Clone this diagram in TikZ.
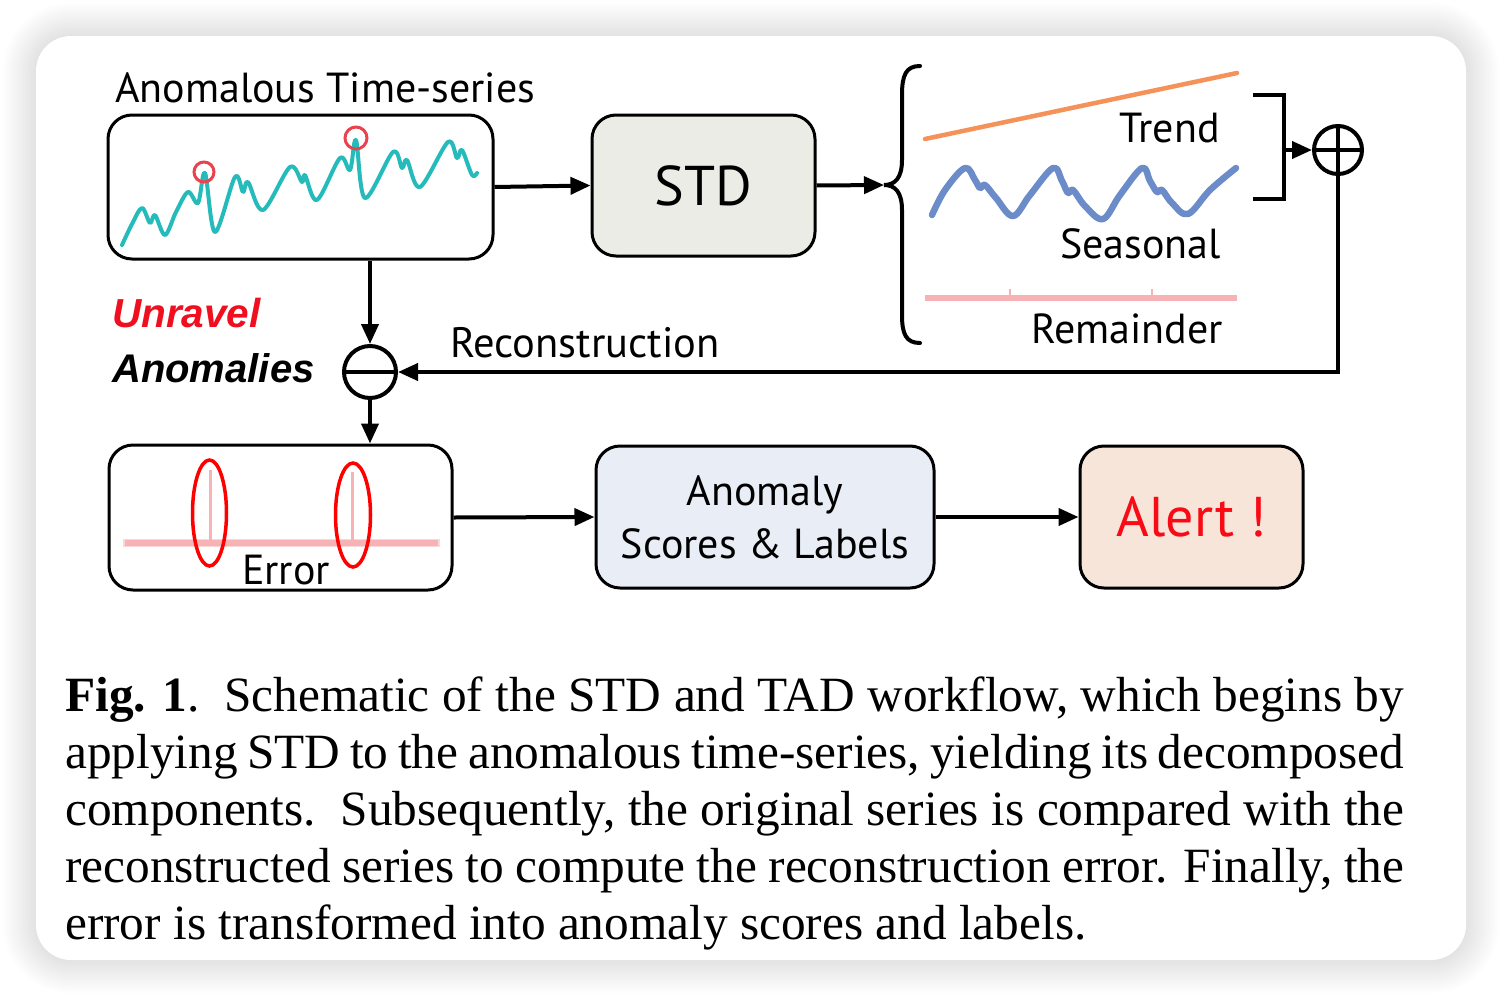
\documentclass[tikz,border=0pt]{standalone}
\usepackage{fontspec}
\setmainfont{Liberation Serif}
\newfontfamily\dfont{PT Sans}
\newfontfamily\afont{Liberation Sans}
\usetikzlibrary{arrows.meta}
\definecolor{teal2}{RGB}{38,187,187}
\definecolor{redc}{RGB}{233,67,79}
\definecolor{trendc}{RGB}{244,146,90}
\definecolor{seasc}{RGB}{107,140,200}
\definecolor{remc}{RGB}{247,178,182}
\definecolor{stdfill}{RGB}{236,236,230}
\definecolor{anfill}{RGB}{233,238,246}
\definecolor{alfill}{RGB}{247,229,218}
\definecolor{alred}{RGB}{250,10,20}
\definecolor{unred}{RGB}{240,15,30}
\begin{document}
\begin{tikzpicture}[x=1pt,y=-1pt,
  conn/.style={line width=4pt, -{Triangle[length=20pt,width=17pt]}},
  box/.style={draw, line width=3pt, rounded corners=24pt, inner sep=0pt},
  lbl/.style={font=\dfont\fontsize{42}{52}\selectfont, inner sep=0pt},
  caplbl/.style={font=\fontsize{49.3}{57}\selectfont, inner sep=0pt, anchor=base west},
  circ/.style={circle, draw, line width=4pt, inner sep=0pt},
  ]
\useasboundingbox (0,0) rectangle (1502,996);
\fill[white] (0,0) rectangle (1502,996);
% shadow
\foreach \i in {1,...,28} {
  \pgfmathsetmacro\d{\i*1.2}
  \pgfmathsetmacro\r{35+\d}
  \fill[black, opacity=0.005, rounded corners=\r pt] (36-\d,36-\d) rectangle (1466+\d,960+\d);
}
\fill[white, rounded corners=35pt] (36,36) rectangle (1466,960);

% boxes
\node[box, minimum width=385pt, minimum height=144pt] (ts) at (300.5,187) {};
\node[box, fill=stdfill, minimum width=223pt, minimum height=141pt, font=\dfont\fontsize{56}{60}\selectfont] (std) at (703.5,185.5) {STD};
\node[box, minimum width=343pt, minimum height=145pt] (err) at (280.5,517.5) {};
\node[box, fill=anfill, minimum width=338pt, minimum height=142pt, align=center, font=\dfont\fontsize{42}{53}\selectfont] (anom) at (765,517) {Anomaly\\Scores \& Labels};
\node[box, fill=alfill, minimum width=223pt, minimum height=142pt, text=alred, font=\dfont\fontsize{56}{60}\selectfont] (alert) at (1191.5,517) {Alert !};

% time series
\draw[teal2, line width=4pt, line cap=round, line join=round] plot[smooth, tension=0.55] coordinates {
(122,245) (132,224) (142,208) (150,223) (155,215) (165,235) (176,212) (188,192) (198,203) (205,173) (215,232) (235,177) (243,192) (248,182) (263,210) (290,167) (302,182) (305,175) (317,200) (340,158) (350,170) (356,140) (365,198) (393,152) (402,168) (407,160) (420,187) (448,142) (457,158) (462,150) (472,175) (477,173)};
\draw[redc, line width=3pt] (204,172) circle[radius=10pt];
\draw[redc, line width=3pt] (356,138) circle[radius=11pt];

% decomposition
\draw[trendc, line width=4.5pt, line cap=round] (925,139) -- (1237,73);
\draw[seasc, line width=6.5pt, line cap=round, line join=round] plot[smooth, tension=0.6] coordinates {
(932,215) (945,190) (965,168) (975,180) (980,188) (985,185) (996,198) (1013,216) (1030,195) (1053,168) (1062,181) (1068,193) (1073,190) (1085,206) (1103,219) (1120,195) (1142,168) (1150,181) (1157,192) (1162,190) (1172,203) (1188,214) (1210,190) (1236,168)};
\draw[remc, line width=5.5pt] (925,298) -- (1237,298);
\draw[remc, line width=2.5pt] (1010,289) -- (1010,298) (1152,289) -- (1152,298);
\node[lbl, anchor=base east] (trend) at (1220,142) {Trend};
\node[lbl, anchor=base east] (seas) at (1221,258) {Seasonal};
\node[lbl, anchor=base east] (rem) at (1223,343) {Remainder};

% brace
\coordinate (bracetip) at (884,185);
\draw[line width=4pt, line cap=round] (920,66) .. controls (906,66) and (902,75) .. (902,95) -- (902,160) .. controls (902,178) and (895,185) .. (bracetip) .. controls (895,185) and (902,192) .. (902,210) -- (902,315) .. controls (902,334) and (906,343) .. (920,343);
% right bracket
\draw[line width=4pt, line join=miter] (1253,95) -- (1284,95) -- (1284,199) -- (1253,199);
\coordinate (brmid) at (1284,150);

% circles
\node[circ, minimum size=48pt] (plus) at (1338,150) {};
\draw[line width=4pt] (plus.north) -- (plus.south) (plus.west) -- (plus.east);
\node[circ, minimum size=52pt] (minus) at (370,372) {};
\draw[line width=4pt] (minus.west) -- (minus.east);

% texts
\node[lbl, anchor=base west] (title) at (115,102) {Anomalous Time-series};
\node[lbl, anchor=base west, font=\dfont\fontsize{42.5}{52}\selectfont] (recon) at (450,357) {Reconstruction};
\node[lbl, anchor=base] (errt) at (286,584) {Error};
\node[font=\afont\bfseries\itshape\fontsize{40.5}{48}\selectfont, text=unred, anchor=base west, inner sep=0pt] (unr) at (112,327) {Unravel};
\node[font=\afont\bfseries\itshape\fontsize{40}{48}\selectfont, anchor=base west, inner sep=0pt] (anm) at (112,382) {Anomalies};

% error content
\draw[remc, line width=8pt, opacity=0.5] (123,543) -- (440,543);
\draw[remc, line width=6pt] (125,543) -- (438,543);
\draw[remc, line width=3pt] (210,470) -- (210,543) (352,472) -- (352,543);
\draw[red, line width=3.5pt] (209.5,513) ellipse[x radius=17pt, y radius=53pt];
\draw[red, line width=3.5pt] (353,515) ellipse[x radius=17.5pt, y radius=52pt];

% connectors
\draw[conn] (ts.east) -- (std.west);
\draw[conn] (std.east) -- (bracetip);
\draw[conn] (brmid) -- (plus.west);
\draw[conn] (plus.south) |- (minus.east);
\draw[conn] (minus |- ts.south) -- (minus.north);
\draw[conn] (minus.south) -- (minus |- err.north);
\draw[conn] (err.east) -- (anom.west);
\draw[conn] (anom.east) -- (alert.west);

% caption
\node[caplbl] (c1) at (65,711) {\makebox[1339pt][s]{\mbox{\textbf{Fig. 1}}.\ \ Schematic of the STD and TAD workflow, which begins by}};
\node[caplbl] (c2) at (65,768) {\makebox[1339pt][s]{applying STD to the anomalous time-series, yielding its decomposed}};
\node[caplbl] (c3) at (65,825) {\makebox[1339pt][s]{components.\ \ Subsequently, the original series is compared with the}};
\node[caplbl] (c4) at (65,882) {\makebox[1339pt][s]{reconstructed series to compute the reconstruction error. Finally, the}};
\node[caplbl] (c5) at (65,939) {error is transformed into anomaly scores and labels.};
\end{tikzpicture}
\end{document}
